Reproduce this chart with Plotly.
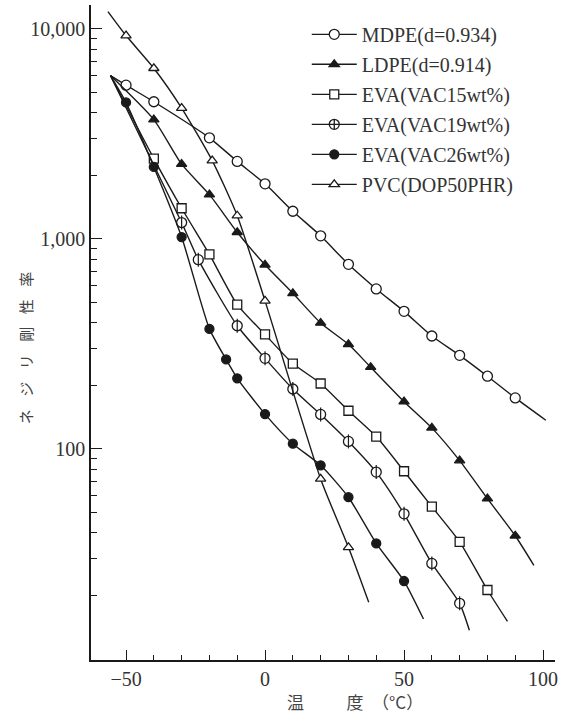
import plotly.graph_objects as go

# ---------------- Data (temperature in °C, torsional stiffness) ----------------
labels = ["MDPE(d=0.934)", "LDPE(d=0.914)", "EVA(VAC15wt%)", "EVA(VAC19wt%)", "EVA(VAC26wt%)", "PVC(DOP50PHR)"]

mdpe_t = [-50, -40, -20, -10, 0, 10, 20, 30, 40, 50, 60, 70, 80, 90]
mdpe_v = [5400, 4500, 3030, 2340, 1830, 1355, 1035, 757, 578, 452, 345, 279, 222, 175]
mdpe_ends_t = [-55.6, 101]
mdpe_ends_v = [6000, 137]

ldpe_t = [-40, -30, -20, -10, 0, 10, 20, 30, 38, 50, 60, 70, 80, 90]
ldpe_v = [3700, 2270, 1625, 1076, 753, 551, 398, 315, 245, 168, 126, 88, 58, 38.6]
ldpe_ends_t = [-55.6, 96.7]
ldpe_ends_v = [6000, 27.9]

eva15_t = [-40, -30, -20, -10, 0, 10, 20, 30, 40, 50, 60, 70, 80]
eva15_v = [2413, 1400, 844, 487, 351, 255, 205, 152, 114.5, 78.3, 53.1, 36.1, 21.3]
eva15_ends_t = [-55.6, 87.2]
eva15_ends_v = [6000, 15.1]

eva19_t = [-30, -24, -10, 0, 10, 20, 30, 40, 50, 60, 70]
eva19_v = [1197, 797, 386, 270, 193, 146, 108.6, 77.6, 49.1, 28.5, 18.4]
eva19_ends_t = [-55.6, 73.5]
eva19_ends_v = [6000, 13.7]

eva26_t = [-50, -40, -30, -20, -14, -10, 0, 10, 20, 30, 40, 50]
eva26_v = [4467, 2203, 1021, 373, 267, 217, 146.5, 105.9, 83.6, 58.9, 35.5, 23.5]
eva26_ends_t = [-55.6, 57]
eva26_ends_v = [6000, 15.5]

pvc_t = [-50, -40, -30, -19, -10, 0, 20, 30]
pvc_v = [9300, 6500, 4200, 2360, 1290, 507, 72, 34]
pvc_ends_t = [-56.5, 37.3]
pvc_ends_v = [12100, 18.6]

x_major = [-50, 0, 50, 100]
x_major_text = ["\u221250", "0", "50", "100"]
x_minor = [-40, -30, -20, -10, 10, 20, 30, 40, 60, 70, 80, 90]
y_major = [100, 1000, 10000]
y_major_text = ["100", "1,000", "10,000"]
y_minor = [m * d for d in (10, 100, 1000) for m in range(2, 10)]

# ---------------- Styling ----------------
INK = "#1a1a1a"
series = [
    (mdpe_t, mdpe_v, mdpe_ends_t, mdpe_ends_v, dict(symbol="circle", color="white", size=10), "circle"),
    (ldpe_t, ldpe_v, ldpe_ends_t, ldpe_ends_v, dict(symbol="triangle-up", color=INK, size=9), "triangle-up"),
    (eva15_t, eva15_v, eva15_ends_t, eva15_ends_v, dict(symbol="square", color="white", size=9), "square"),
    (eva19_t, eva19_v, eva19_ends_t, eva19_ends_v, dict(symbol="circle", color="white", size=10), "circle-cross"),
    (eva26_t, eva26_v, eva26_ends_t, eva26_ends_v, dict(symbol="circle", color=INK, size=9), "circle"),
    (pvc_t, pvc_v, pvc_ends_t, pvc_ends_v, dict(symbol="triangle-up", color="white", size=9), "triangle-up"),
]

fig = go.Figure()

for i, (t, v, et, ev, mk, leg_sym) in enumerate(series):
    lx = [et[0]] + t + [et[1]]
    ly = [ev[0]] + v + [ev[1]]
    fig.add_trace(go.Scatter(
        x=lx, y=ly, mode="lines", showlegend=False, hoverinfo="skip",
        line=dict(color=INK, width=1.4, shape="spline", smoothing=0.6),
    ))
    fig.add_trace(go.Scatter(
        x=t, y=v, mode="markers", showlegend=False, name=labels[i],
        marker=dict(symbol=mk["symbol"], color=mk["color"], size=mk["size"],
                    line=dict(color=INK, width=1.3)),
    ))
    if i == 3:
        # vertical bar inside the EVA 19 wt% circles
        fig.add_trace(go.Scatter(
            x=t, y=v, mode="markers", showlegend=False, hoverinfo="skip",
            marker=dict(symbol="line-ns", size=mk["size"], color=INK,
                        line=dict(color=INK, width=1.2)),
        ))

# legend entries
for i, (t, v, et, ev, mk, leg_sym) in enumerate(series):
    fig.add_trace(go.Scatter(
        x=[None], y=[None], mode="lines+markers", name=labels[i],
        legendgroup=f"g{i}", showlegend=True,
        line=dict(color=INK, width=1.4),
        marker=dict(symbol=leg_sym, color=mk["color"], size=mk["size"],
                    line=dict(color=INK, width=1.3)),
    ))

axis_font = dict(family="Liberation Serif, Times New Roman, serif", size=20, color="#333")

fig.update_layout(
    width=566, height=721,
    margin=dict(l=91, r=11, t=5, b=61, autoexpand=False),
    paper_bgcolor="white", plot_bgcolor="white",
    showlegend=True,
    legend=dict(
        x=0.465, y=0.985, xanchor="left", yanchor="top",
        font=dict(family="Liberation Serif, Times New Roman, serif", size=20, color="#333"),
        bgcolor="rgba(0,0,0,0)", itemwidth=45, tracegroupgap=1,
        itemclick=False, itemdoubleclick=False,
    ),
    xaxis=dict(
        range=[-62.6, 104.3], showgrid=False, zeroline=False, automargin=False,
        showline=True, linecolor=INK, linewidth=1.5,
        tickmode="array", tickvals=x_major, ticktext=x_major_text,
        ticks="inside", ticklen=10, tickwidth=1.3, tickcolor=INK,
        tickfont=axis_font,
        minor=dict(tickmode="array", tickvals=x_minor, ticks="inside", ticklen=5,
                   tickwidth=1.2, tickcolor=INK, showgrid=False),
    ),
    yaxis=dict(
        type="log", range=[0.995, 4.114], showgrid=False, zeroline=False, automargin=False,
        showline=True, linecolor=INK, linewidth=1.5,
        tickmode="array", tickvals=y_major, ticktext=y_major_text,
        ticks="inside", ticklen=11, tickwidth=1.3, tickcolor=INK,
        tickfont=axis_font,
        minor=dict(tickmode="array", tickvals=y_minor, ticks="inside", ticklen=6,
                   tickwidth=1.2, tickcolor=INK, showgrid=False),
    ),
    annotations=[
        dict(text="\u6e29\u3000\u3000\u2002\u5ea6\u2002\uff08\u00b0C\uff09",
             xref="paper", yref="paper", x=0.569, y=-0.063,
             xanchor="center", yanchor="middle", showarrow=False,
             font=dict(family="Noto Sans CJK JP", size=17, color="#444")),
        dict(text="\u30cd\u2002\u2004\u30b8\u2002\u2004\u30ea\u2002\u2004\u525b\u2002\u2004\u6027\u2002\u2004\u7387",
             xref="paper", yref="paper", x=-0.142, y=0.476, textangle=-90,
             xanchor="center", yanchor="middle", showarrow=False,
             font=dict(family="Noto Sans CJK JP", size=15, color="#444")),
    ],
)

fig.write_html("out.html", config={"displayModeBar": False},
               post_script="document.body.style.margin='0';")
